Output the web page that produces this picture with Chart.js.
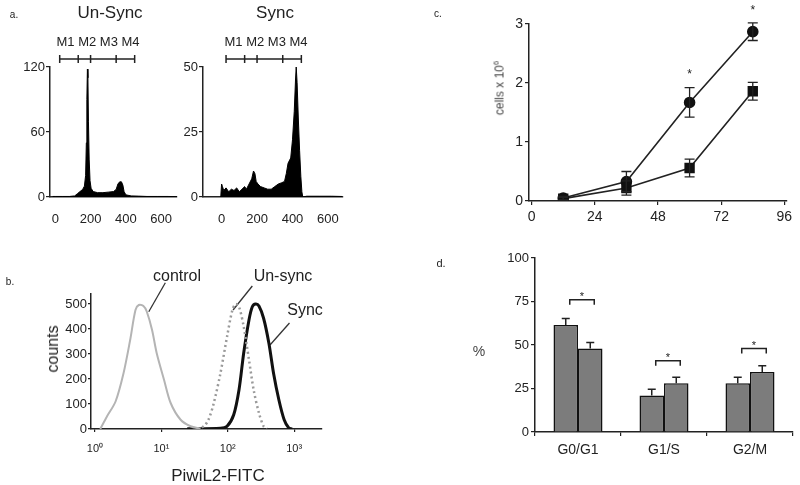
<!DOCTYPE html>
<html>
<head>
<meta charset="utf-8">
<script src="https://cdn.jsdelivr.net/npm/chart.js@4/dist/chart.umd.min.js"></script>
<style>
body { margin: 0; background: #fff; }
#fig { position: relative; width: 800px; height: 485px; overflow: hidden; }
canvas { position: absolute; }
.t { position: absolute; transform: translate(-50%, -50%); white-space: nowrap; line-height: 1;
     font-family: 'Liberation Sans', Arial, sans-serif; color: #222; }
.rot { transform: translate(-50%, -50%) rotate(-90deg); }
sup { font-size: 65%; }
</style>
</head>
<body>
<div id="fig">
  <canvas id="a1" width="190" height="230" style="left:0;top:0"></canvas>
  <canvas id="a2" width="200" height="230" style="left:155px;top:0"></canvas>
  <canvas id="b" width="340" height="255" style="left:0;top:230px"></canvas>
  <canvas id="c" width="360" height="230" style="left:440px;top:0"></canvas>
  <canvas id="d" width="360" height="255" style="left:440px;top:230px"></canvas>

  <div class="t" style="left:14px;top:15px;font-size:10px">a.</div>
  <div class="t" style="left:110px;top:12px;font-size:17px">Un-Sync</div>
  <div class="t" style="left:275px;top:12px;font-size:17px">Sync</div>
  <div class="t" style="left:98px;top:41px;font-size:13px">M1 M2 M3 M4</div>
  <div class="t" style="left:266px;top:41px;font-size:13px">M1 M2 M3 M4</div>

  <div class="t" style="left:10px;top:282px;font-size:10px">b.</div>
  <div class="t" style="left:177px;top:276px;font-size:16px">control</div>
  <div class="t" style="left:283px;top:276px;font-size:16px">Un-sync</div>
  <div class="t" style="left:305px;top:310px;font-size:16px">Sync</div>
  <div class="t rot" style="left:53px;top:349px;font-size:16px">counts</div>
  <div class="t" style="left:218px;top:475px;font-size:17px">PiwiL2-FITC</div>

  <div class="t" style="left:438px;top:14px;font-size:10px">c.</div>
  <div class="t rot" style="left:499px;top:88px;font-size:12px;color:#444">cells x 10<sup>6</sup></div>

  <div class="t" style="left:441px;top:263px;font-size:11px">d.</div>
  <div class="t" style="left:479px;top:351px;font-size:14px;color:#444">%</div>
</div>
<script>
// ---- panel a: DNA content histograms ----
var unsyncChannel = [-15, 0, 40, 80, 110, 125, 140, 155, 165, 172, 176, 179, 182, 185, 188, 192, 197, 203, 215, 240, 270, 300, 330, 345, 355, 365, 375, 383, 390, 400, 430, 470, 520, 580, 640, 690];
var unsyncCounts  = [0.5, 0.5, 0.5, 0.5, 1, 3, 5, 7, 10, 20, 50, 90, 118, 110, 70, 35, 15, 8, 5, 4, 4, 4.5, 5, 7, 12, 14, 14, 11, 5, 2, 1, 0.8, 0.5, 0.5, 0.5, 0.3];
var syncChannel = [-5, 0, 5, 12, 25, 40, 55, 70, 85, 100, 115, 130, 140, 155, 170, 180, 188, 195, 205, 220, 240, 260, 280, 300, 320, 340, 355, 365, 375, 390, 400, 410, 417, 421, 426, 433, 440, 447, 453, 458, 480, 550, 620, 680];
var syncCounts  = [0, 5, 4, 2.5, 3.5, 2, 3, 2.5, 3.5, 2, 3, 4, 3, 5, 7, 10, 9, 6, 5, 4, 3.5, 3, 3, 4, 5, 5.5, 6, 9, 13, 15, 22, 33, 45, 50, 44, 30, 18, 8, 2, 0, 0.3, 0.3, 0.3, 0.2];
var gateEdges = [25, 130, 200, 345, 450];
var histTicks = [0, 200, 400, 600];

// ---- panel b: PiwiL2-FITC (x in decades) ----
var controlLog    = [0.08, 0.18, 0.31, 0.43, 0.53, 0.61, 0.66, 0.73, 0.78, 0.86, 0.93, 1.04, 1.14, 1.29, 1.44, 1.59];
var controlCounts = [0, 50, 110, 223, 356, 476, 496, 492, 470, 396, 303, 197, 104, 37, 11, 1];
var unsyncLog     = [1.54, 1.64, 1.71, 1.79, 1.89, 1.99, 2.07, 2.12, 2.17, 2.24, 2.32, 2.39, 2.47, 2.54, 2.59];
var unsyncFitc    = [0, 11, 37, 104, 223, 370, 476, 500, 489, 410, 277, 157, 64, 11, 1];
var syncLog       = [1.39, 1.89, 1.99, 2.09, 2.17, 2.24, 2.32, 2.37, 2.42, 2.47, 2.54, 2.62, 2.69, 2.77, 2.85, 2.92, 2.97];
var syncFitc      = [1, 3, 11, 57, 157, 303, 436, 489, 500, 492, 443, 343, 223, 117, 37, 4, 0];
var fitcTicks  = [0, 1, 2, 3];
var fitcLabels = ['10⁰', '10¹', '10²', '10³'];
var countTicks = [0, 100, 200, 300, 400, 500];
// label leader lines [x0, y0, x1, y1] in decades / counts
var leaderControl = [1.06, 585, 0.81, 469];
var leaderUnsync  = [2.37, 572, 2.08, 476];
var leaderSync    = [2.93, 424, 2.64, 337];

// ---- panel c: growth curves ----
var hours = [12, 36, 60, 84];
var cellsCircle = [0.05, 0.33, 1.67, 2.87];
var errCircle   = [0.03, 0.17, 0.25, 0.15];
var cellsSquare = [0.04, 0.22, 0.56, 1.86];
var errSquare   = [0.02, 0.12, 0.15, 0.15];
var hourTicks = [0, 24, 48, 72, 96];
var cellTicks = [0, 1, 2, 3];
var starHours  = [60, 84];
var starLevels = [2.2, 3.27];

// ---- panel d: cell cycle phases ----
var phases = ['G0/G1', 'G1/S', 'G2/M'];
var pctFirst  = [61.5, 21, 28];
var errFirst  = [3.8, 3.5, 3.5];
var pctSecond = [48, 28, 34.5];
var errSecond = [3.4, 3.5, 3.6];
var bracketLevels = [76, 41, 48];
var pctTicks = [0, 25, 50, 75, 100];

var ink = '#222';
Chart.defaults.font.family = "'Liberation Sans', Arial, sans-serif";
Chart.defaults.color = ink;
Chart.defaults.animation = false;
Chart.defaults.responsive = false;
Chart.defaults.events = [];
Chart.defaults.plugins.legend.display = false;
Chart.defaults.plugins.tooltip.enabled = false;

function pts(xs, ys) { return xs.map(function (x, i) { return { x: x, y: ys[i] }; }); }

function axis(o) {
  var s = {
    type: o.type || 'linear',
    offset: !!o.offset,
    afterFit: function (sc) { if (o.w != null) sc.width = o.w; if (o.h != null) sc.height = o.h; },
    grid: { display: !!o.tick, drawOnChartArea: false, drawTicks: !!o.tick, tickLength: o.tick || 0,
            color: ink, tickColor: ink, lineWidth: 1.2, offset: !!o.gridOffset },
    border: { color: ink, width: 1.5 },
    ticks: { font: { size: o.size || 13 }, padding: o.pad || 2, color: ink, autoSkip: false, maxRotation: 0 }
  };
  if (o.min != null) s.min = o.min;
  if (o.max != null) s.max = o.max;
  if (o.ticks) s.afterBuildTicks = function (sc) { sc.ticks = o.ticks.map(function (v) { return { value: v }; }); };
  if (o.labels) s.ticks.callback = function (v, i) { return o.labels[i]; };
  return s;
}

// gate bar (M1..M4) above the histograms
var gatePlugin = {
  id: 'gates',
  afterDraw: function (chart) {
    var ctx = chart.ctx, xs = chart.scales.x, y = chart.chartArea.top - 8;
    var px = gateEdges.map(function (v) { return xs.getPixelForValue(v); });
    ctx.save();
    ctx.strokeStyle = ink; ctx.lineWidth = 1.5;
    ctx.beginPath();
    ctx.moveTo(px[0], y); ctx.lineTo(px[px.length - 1], y);
    px.forEach(function (p) { ctx.moveTo(p, y - 4); ctx.lineTo(p, y + 4); });
    ctx.stroke();
    ctx.restore();
  }
};

function histogram(id, xs, ys, xmin, xmax, ymax, yticks, yw, padRight) {
  new Chart(document.getElementById(id), {
    type: 'line',
    data: { datasets: [{ data: pts(xs, ys), fill: 'origin', backgroundColor: '#000', borderColor: '#000',
                         borderWidth: 1, pointRadius: 0, tension: 0 }] },
    options: {
      layout: { padding: { top: 67, right: padRight, left: 0, bottom: 0 } },
      scales: {
        x: axis({ min: xmin, max: xmax, ticks: histTicks, h: 33, pad: 15, size: 13 }),
        y: axis({ min: 0, max: ymax, ticks: yticks, w: yw, tick: 4, pad: 1, size: 13 })
      }
    },
    plugins: [gatePlugin]
  });
}
histogram('a1', unsyncChannel, unsyncCounts, -30, 690, 120, [0, 60, 120], 50, 13);
histogram('a2', syncChannel, syncCounts, -105, 680, 50, [0, 25, 50], 48, 12);

// ---- b ----
function leader(l) {
  return { data: [{ x: l[0], y: l[1] }, { x: l[2], y: l[3] }], borderColor: '#333', borderWidth: 1.3,
           pointRadius: 0, clip: false };
}
new Chart(document.getElementById('b'), {
  type: 'line',
  data: { datasets: [
    { data: pts(controlLog, controlCounts), borderColor: '#b4b4b4', borderWidth: 2, pointRadius: 0, tension: 0.3 },
    { data: pts(unsyncLog, unsyncFitc), borderColor: '#9a9a9a', borderWidth: 2.5, borderDash: [2, 3], pointRadius: 0, tension: 0.3 },
    { data: pts(syncLog, syncFitc), borderColor: '#111', borderWidth: 3, pointRadius: 0, tension: 0.3 },
    leader(leaderControl), leader(leaderUnsync), leader(leaderSync)
  ] },
  options: {
    layout: { padding: { top: 64, right: 18, left: 0, bottom: 0 } },
    scales: {
      x: axis({ min: -0.06, max: 3.42, ticks: fitcTicks, labels: fitcLabels, h: 56, tick: 3, pad: 10, size: 11 }),
      y: axis({ min: 0, max: 540, ticks: countTicks, w: 91, tick: 3, pad: 1, size: 13 })
    }
  }
});

// ---- c ----
var growthPlugin = {
  id: 'growthErr',
  afterDatasetsDraw: function (chart) {
    var ctx = chart.ctx, ys = chart.scales.y, xs = chart.scales.x;
    var errs = [errCircle, errSquare];
    ctx.save();
    ctx.strokeStyle = ink; ctx.lineWidth = 1.3;
    chart.data.datasets.forEach(function (ds, d) {
      chart.getDatasetMeta(d).data.forEach(function (p, i) {
        var v = ds.data[i].y, e = errs[d][i];
        var y0 = ys.getPixelForValue(v - e), y1 = ys.getPixelForValue(v + e);
        ctx.beginPath();
        ctx.moveTo(p.x, y0); ctx.lineTo(p.x, y1);
        ctx.moveTo(p.x - 5, y0); ctx.lineTo(p.x + 5, y0);
        ctx.moveTo(p.x - 5, y1); ctx.lineTo(p.x + 5, y1);
        ctx.stroke();
      });
    });
    ctx.fillStyle = ink; ctx.font = "12px 'Liberation Sans'"; ctx.textAlign = 'center'; ctx.textBaseline = 'middle';
    starHours.forEach(function (h, i) {
      ctx.fillText('*', xs.getPixelForValue(h), ys.getPixelForValue(starLevels[i]) + 3);
    });
    ctx.restore();
  }
};
new Chart(document.getElementById('c'), {
  type: 'line',
  data: { datasets: [
    { data: pts(hours, cellsCircle), borderColor: ink, borderWidth: 1.6, pointStyle: 'circle', pointRadius: 5,
      pointBackgroundColor: '#111', pointBorderColor: '#111', tension: 0 },
    { data: pts(hours, cellsSquare), borderColor: ink, borderWidth: 1.6, pointStyle: 'rect', pointRadius: 6.2,
      pointBackgroundColor: '#111', pointBorderColor: '#111', tension: 0 }
  ] },
  options: {
    layout: { padding: { top: 24, right: 13, left: 0, bottom: 0 } },
    scales: {
      x: axis({ min: -1, max: 97, ticks: hourTicks, h: 29, tick: 4, pad: 4, size: 14 }),
      y: axis({ min: 0, max: 3, ticks: cellTicks, w: 89, tick: 4, pad: 2, size: 14 })
    }
  },
  plugins: [growthPlugin]
});

// ---- d ----
var barPlugin = {
  id: 'barErr',
  afterDatasetsDraw: function (chart) {
    var ctx = chart.ctx, ys = chart.scales.y;
    var errs = [errFirst, errSecond];
    ctx.save();
    ctx.strokeStyle = ink; ctx.lineWidth = 1.5;
    chart.data.datasets.forEach(function (ds, d) {
      chart.getDatasetMeta(d).data.forEach(function (bar, i) {
        var top = ys.getPixelForValue(ds.data[i] + errs[d][i]);
        ctx.beginPath();
        ctx.moveTo(bar.x, bar.y); ctx.lineTo(bar.x, top);
        ctx.moveTo(bar.x - 4, top); ctx.lineTo(bar.x + 4, top);
        ctx.stroke();
      });
    });
    var m0 = chart.getDatasetMeta(0).data, m1 = chart.getDatasetMeta(1).data;
    ctx.fillStyle = ink; ctx.font = "11px 'Liberation Sans'"; ctx.textAlign = 'center'; ctx.textBaseline = 'middle';
    bracketLevels.forEach(function (lv, i) {
      var y = ys.getPixelForValue(lv), x0 = m0[i].x + 4, x1 = m1[i].x + 4;
      ctx.beginPath();
      ctx.moveTo(x0, y + 5); ctx.lineTo(x0, y); ctx.lineTo(x1, y); ctx.lineTo(x1, y + 5);
      ctx.stroke();
      ctx.fillText('*', (x0 + x1) / 2, y - 3);
    });
    ctx.restore();
  }
};
new Chart(document.getElementById('d'), {
  type: 'bar',
  data: { labels: phases, datasets: [
    { data: pctFirst, backgroundColor: '#7c7c7c', borderColor: '#111', borderWidth: 1.5, barPercentage: 1, categoryPercentage: 0.57 },
    { data: pctSecond, backgroundColor: '#7c7c7c', borderColor: '#111', borderWidth: 1.5, barPercentage: 1, categoryPercentage: 0.57 }
  ] },
  options: {
    layout: { padding: { top: 28, right: 7, left: 0, bottom: 0 } },
    scales: {
      x: axis({ type: 'category', offset: true, gridOffset: true, h: 53, tick: 4, pad: 6, size: 14 }),
      y: axis({ min: 0, max: 100, ticks: pctTicks, w: 95, tick: 4, pad: 2, size: 13 })
    }
  },
  plugins: [barPlugin]
});
</script>
</body>
</html>
